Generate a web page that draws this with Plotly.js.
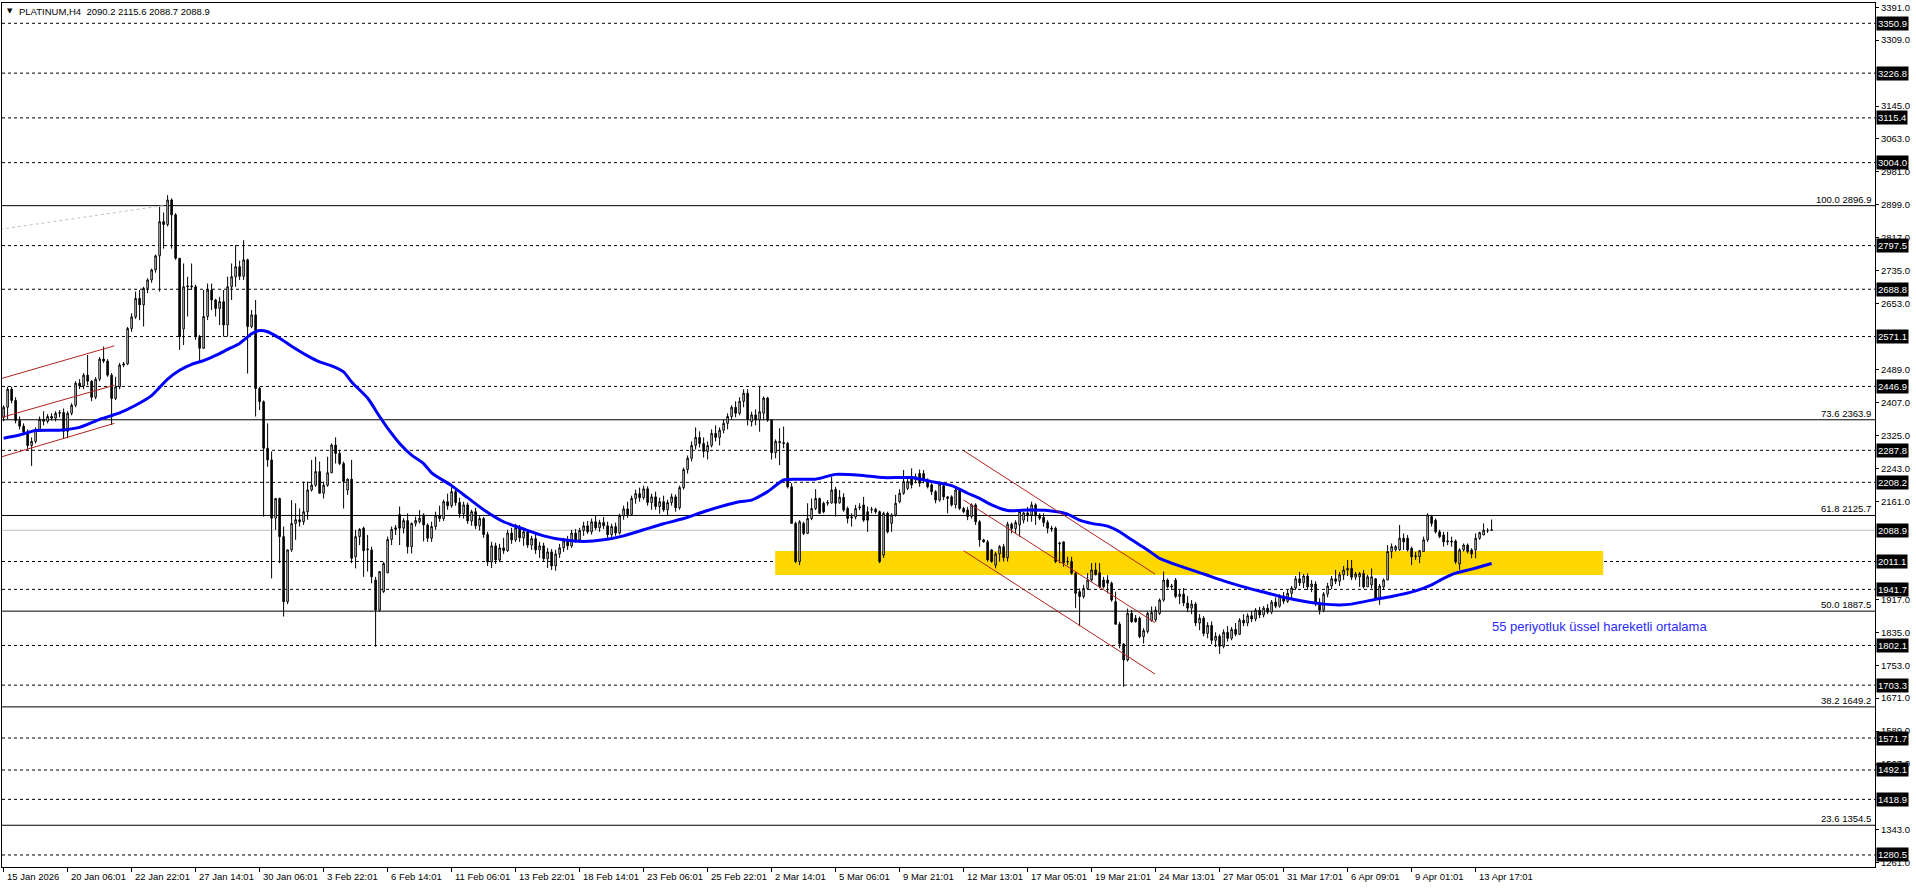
<!DOCTYPE html>
<html><head><meta charset="utf-8">
<script src="https://cdn.plot.ly/plotly-3.0.1.min.js"></script>
<style>html,body{margin:0;padding:0;background:#fff;}#chart{width:1916px;height:888px;}</style>
</head><body><div id="chart"></div>
<script>
// H4 bars, index 0 = 15 Jan 2026
const openP = [
2370,2395,2440,2412,2362,2348,2333,2300,2310,2340,
2365,2360,2372,2368,2380,2382,2335,2380,2400,2455,
2448,2475,2460,2420,2465,2515,2510,2475,2417,2446,
2500,2503,2591,2620,2666,2650,2691,2712,2737,2772,
2857,2850,2911,2874,2766,2590,2695,2697,2695,2571,
2542,2621,2687,2662,2641,2658,2600,2695,2720,2745,
2721,2762,2596,2625,2442,2409,2293,2264,2119,2168,
2073,1911,2040,2106,2115,2110,2135,2189,2201,2235,
2181,2201,2232,2301,2280,2255,2189,2216,2023,2073,
2094,2040,2040,1965,1890,1936,1983,2066,2091,2128,
2094,2113,2048,2106,2110,2127,2102,2069,2098,2125,
2118,2160,2150,2185,2158,2130,2152,2112,2135,2100,
2118,2078,2010,2050,2015,2045,2038,2082,2065,2095,
2070,2085,2052,2068,2040,2050,2018,2035,2000,2030,
2045,2062,2050,2082,2065,2088,2100,2085,2110,2095,
2108,2100,2078,2098,2082,2125,2142,2128,2168,2180,
2170,2192,2158,2172,2148,2160,2140,2158,2172,2145,
2195,2240,2268,2300,2320,2305,2285,2300,2330,2320,
2338,2355,2372,2395,2380,2410,2430,2359,2376,2364,
2380,2418,2363,2282,2310,2307,2305,2197,2106,2011,
2106,2081,2118,2143,2168,2156,2156,2157,2191,2157,
2171,2143,2120,2122,2145,2152,2135,2140,2141,2135,
2027,2131,2106,2127,2160,2181,2193,2222,2214,2230,
2230,2214,2202,2185,2164,2200,2168,2172,2152,2189,
2143,2139,2123,2152,2110,2065,2060,2040,2002,2030,
2048,2021,2104,2093,2102,2114,2132,2127,2152,2127,
2121,2108,2094,2094,2055,2060,2010,2011,1982,1936,
1924,1944,1965,1990,1983,1965,1965,1957,1911,1855,
1806,1766,1882,1870,1870,1824,1837,1864,1866,1882,
1915,1965,1948,1965,1924,1930,1908,1895,1905,1858,
1870,1832,1852,1815,1825,1800,1835,1820,1842,1830,
1865,1858,1876,1868,1890,1878,1895,1885,1910,1900,
1925,1912,1932,1945,1968,1958,1975,1948,1955,1908,
1890,1930,1950,1968,1962,1978,1990,1994,1972,1973,
1981,1948,1953,1968,1920,1948,1965,2036,2040,2040,
2069,2069,2044,2023,2023,2036,2065,2123,2114,2085,
2077,2060,2062,2062,2005,2040,2052,2040,2040,2069,
2077,2088,2090.2];
const highP = [
2400,2446,2446,2420,2372,2355,2340,2320,2345,2372,
2385,2378,2380,2385,2388,2392,2385,2405,2460,2465,
2480,2525,2462,2470,2520,2546,2515,2480,2471,2505,
2508,2595,2629,2683,2687,2695,2716,2740,2775,2894,
2880,2923,2915,2878,2766,2753,2720,2753,2700,2575,
2687,2703,2703,2665,2670,2687,2720,2753,2799,2760,
2811,2765,2637,2662,2446,2412,2355,2285,2168,2170,
2098,2040,2164,2156,2143,2210,2210,2264,2272,2260,
2210,2272,2305,2320,2289,2260,2218,2264,2090,2094,
2098,2077,2048,1973,1986,2010,2073,2098,2102,2148,
2119,2131,2108,2123,2139,2131,2106,2110,2135,2150,
2165,2180,2196,2192,2170,2160,2158,2140,2145,2125,
2122,2085,2060,2058,2055,2070,2090,2095,2105,2102,
2090,2092,2075,2080,2060,2058,2045,2042,2040,2055,
2070,2075,2090,2092,2095,2110,2112,2118,2125,2115,
2122,2110,2105,2108,2130,2150,2160,2175,2190,2195,
2200,2198,2180,2185,2170,2175,2165,2180,2178,2200,
2245,2275,2310,2345,2335,2320,2310,2340,2350,2345,
2365,2380,2400,2410,2420,2440,2440,2384,2390,2446,
2422,2421,2365,2315,2343,2347,2309,2206,2110,2114,
2110,2156,2168,2191,2170,2160,2164,2222,2197,2189,
2181,2148,2131,2152,2156,2172,2148,2147,2145,2138,
2135,2135,2131,2177,2191,2239,2218,2243,2230,2240,
2239,2218,2206,2189,2210,2204,2174,2176,2193,2193,
2147,2147,2156,2156,2114,2067,2065,2042,2035,2052,
2055,2110,2108,2114,2139,2135,2147,2160,2156,2131,
2131,2114,2100,2098,2060,2060,2023,2023,1986,1944,
1953,1982,2007,2008,2007,1973,1977,1961,1936,1861,
1807,1894,1890,1878,1874,1845,1886,1899,1899,1919,
1986,1969,1955,1970,1940,1945,1925,1915,1910,1880,
1875,1860,1862,1835,1830,1842,1850,1848,1858,1870,
1880,1882,1888,1895,1898,1900,1905,1915,1922,1930,
1935,1940,1950,1975,1985,1980,1982,1965,1962,1920,
1935,1958,1975,1990,1985,2000,2015,2015,1985,1985,
1990,1978,1994,1970,1955,1969,2052,2056,2052,2102,
2081,2077,2048,2035,2040,2073,2131,2127,2118,2090,
2085,2085,2073,2066,2044,2056,2056,2044,2081,2085,
2106,2094,2115.6];
const lowP = [
2360,2365,2405,2355,2340,2325,2290,2249,2305,2335,
2350,2355,2362,2360,2370,2318,2318,2375,2395,2440,
2440,2450,2410,2415,2460,2505,2471,2351,2413,2440,
2495,2500,2583,2615,2612,2596,2679,2705,2730,2683,
2790,2845,2790,2762,2538,2550,2621,2687,2563,2509,
2540,2612,2637,2621,2600,2571,2571,2662,2695,2712,
2712,2479,2592,2372,2388,2123,2247,1969,2090,2007,
1874,1905,2035,2065,2098,2102,2115,2185,2197,2181,
2168,2197,2231,2255,2251,2143,2177,2007,1994,2052,
1973,1986,1957,1799,1886,1933,1982,2052,2077,2052,
2081,2031,2031,2098,2106,2061,2060,2060,2090,2110,
2112,2140,2145,2150,2120,2118,2105,2100,2092,2088,
2070,2000,1995,2005,2010,2030,2035,2055,2060,2060,
2050,2045,2040,2030,2020,2010,1995,1990,1988,2020,
2035,2040,2045,2058,2060,2075,2080,2078,2090,2085,
2092,2070,2070,2075,2078,2115,2120,2125,2155,2160,
2165,2150,2140,2140,2130,2135,2125,2150,2135,2140,
2190,2230,2260,2290,2295,2270,2265,2295,2310,2300,
2330,2340,2365,2370,2375,2395,2350,2347,2350,2334,
2363,2359,2265,2268,2251,2293,2193,2106,2007,2002,
2077,2081,2114,2139,2131,2131,2150,2155,2123,2155,
2135,2106,2098,2116,2139,2110,2085,2131,2130,2007,
2020,2081,2085,2123,2156,2177,2189,2193,2206,2197,
2206,2193,2177,2156,2160,2164,2131,2148,2143,2139,
2131,2114,2118,2102,2048,2058,2011,2008,1994,2011,
2011,2011,2081,2081,2073,2106,2110,2110,2102,2114,
2098,2081,2085,2007,2007,1998,2002,1978,1895,1850,
1919,1940,1961,1977,1944,1944,1932,1911,1853,1795,
1699,1762,1859,1859,1820,1807,1832,1861,1861,1878,
1911,1944,1940,1920,1905,1900,1885,1880,1850,1840,
1825,1820,1805,1798,1781,1795,1812,1815,1825,1828,
1850,1850,1860,1862,1870,1872,1880,1880,1895,1896,
1905,1908,1920,1940,1950,1945,1940,1935,1900,1879,
1885,1922,1942,1955,1950,1965,1975,1965,1965,1948,
1944,1948,1944,1915,1903,1940,1965,2019,2036,2038,
2040,2036,2002,2015,2007,2036,2060,2098,2081,2069,
2048,2052,2048,2005,1990,2036,2031,2019,2019,2065,
2077,2082,2088.7];
const closeP = [
2395,2440,2412,2362,2348,2333,2300,2310,2340,2365,
2360,2372,2368,2380,2382,2335,2380,2400,2455,2448,
2475,2460,2420,2465,2515,2510,2475,2417,2446,2500,
2503,2591,2620,2666,2650,2691,2712,2737,2772,2857,
2850,2911,2874,2766,2571,2695,2697,2695,2571,2542,
2621,2687,2662,2641,2658,2600,2695,2720,2745,2721,
2762,2596,2625,2442,2409,2293,2264,2119,2168,2073,
1911,2040,2106,2115,2110,2135,2189,2201,2235,2181,
2201,2232,2301,2280,2255,2210,2216,2019,2073,2091,
2038,2042,1973,1890,1986,2006,2066,2091,2095,2094,
2113,2048,2106,2113,2119,2102,2069,2098,2125,2118,
2160,2150,2185,2158,2130,2152,2112,2135,2100,2118,
2078,2010,2050,2015,2045,2038,2082,2065,2095,2070,
2085,2052,2068,2040,2050,2018,2035,2000,2030,2045,
2062,2050,2082,2065,2088,2100,2085,2110,2095,2108,
2100,2078,2098,2082,2125,2142,2128,2168,2180,2170,
2192,2158,2172,2148,2160,2140,2158,2172,2145,2195,
2240,2268,2300,2320,2305,2285,2300,2330,2320,2338,
2355,2372,2395,2380,2410,2430,2365,2376,2364,2384,
2418,2363,2282,2310,2307,2305,2197,2106,2011,2110,
2081,2118,2143,2168,2131,2135,2158,2189,2156,2171,
2139,2118,2122,2143,2147,2114,2114,2141,2135,2011,
2131,2085,2127,2156,2181,2210,2210,2202,2222,2206,
2214,2197,2185,2164,2204,2172,2172,2152,2189,2143,
2135,2123,2152,2110,2065,2060,2015,2011,2030,2048,
2021,2104,2093,2108,2135,2132,2127,2152,2127,2119,
2108,2094,2092,2011,2057,2008,2011,1982,1932,1924,
1944,1965,1990,1978,1948,1948,1957,1915,1855,1806,
1766,1882,1861,1861,1824,1839,1882,1884,1890,1915,
1965,1948,1950,1924,1930,1908,1895,1905,1858,1870,
1832,1852,1815,1825,1800,1835,1820,1842,1830,1865,
1858,1876,1868,1890,1878,1895,1885,1910,1900,1925,
1912,1932,1945,1968,1958,1975,1948,1955,1908,1890,
1930,1950,1968,1962,1978,1990,1994,1972,1980,1981,
1948,1973,1973,1919,1950,1965,2036,2048,2048,2069,
2060,2040,2023,2025,2038,2065,2127,2106,2085,2073,
2060,2062,2060,2010,2040,2052,2036,2030,2069,2083,
2089,2088,2088.9];

// 55-period EMA at these bars
const emaBar = [0,4,8,14,19,24,29,33,37,41,44,47,50,53,56,59,62,64,66,69,72,76,79,82,85,87,91,94,96,99,102,105,107,
112,116,120,125,130,135,140,145,150,155,160,165,170,175,180,184,187,191,195,198,203,208,214,220,227,232,237,241,244,247,
251,256,261,266,269,272,276,279,282,286,289,294,300,305,310,315,320,325,330,334,337,344,347,353,357,360,363,367,372];
const emaVal = [2318,2326,2337,2338,2345,2365,2381,2400,2424,2465,2487,2502,2511,2524,2539,2554,2578,2586,2583,2567,2547,2523,2508,2498,2483,2458,2418,2372,2343,2305,2276,2255,2232,
2200,2170,2140,2110,2092,2075,2065,2061,2065,2075,2090,2105,2118,2135,2150,2160,2164,2185,2214,2216,2216,2228,2226,2220,2220,2210,2200,2181,2168,2152,
2138,2139,2138,2129,2114,2106,2099,2085,2065,2040,2019,2000,1980,1963,1948,1935,1922,1912,1905,1903,1905,1919,1924,1938,1953,1969,1982,1992,2006];

const xTickBars = [0,16,32,48,64,80,96,112,128,144,160,176,192,208,224,240,256,272,288,304,320,336,352,368];
const xTickLabels = ['15 Jan 2026','20 Jan 06:01','22 Jan 22:01','27 Jan 14:01','30 Jan 06:01','3 Feb 22:01','6 Feb 14:01',
'11 Feb 06:01','13 Feb 22:01','18 Feb 14:01','23 Feb 06:01','25 Feb 22:01','2 Mar 14:01','5 Mar 06:01','9 Mar 21:01',
'12 Mar 13:01','17 Mar 05:01','19 Mar 21:01','24 Mar 13:01','27 Mar 05:01','31 Mar 17:01','6 Apr 09:01','9 Apr 01:01','13 Apr 17:01'];
const yTickVals = [3391,3309,3145,3063,2981,2899,2817,2735,2653,2489,2407,2325,2243,2161,1917,1835,1753,1671,1589,1507,1343,1261];

const dashedLevels = [3350.9,3226.8,3115.4,3004.0,2797.5,2688.8,2571.1,2446.9,2287.8,2208.2,2011.1,1941.7,1802.1,1703.3,1571.7,1492.1,1418.9,1280.5];
const fibLevels = [2896.9,2363.9,2125.7,1887.5,1649.2,1354.5];
const fibPct = ['100.0','73.6','61.8','50.0','38.2','23.6'];
const bidPrice = 2088.9;

const zoneBars = [192.9,399.9];
const zonePrices = [1977.5,2037.3];

const upChannelBars = [-0.4,27.7];
const upChannelTop = [2467,2548];
const upChannelMid = [2370,2450];
const upChannelBot = [2272,2355];
const downChannelBars = [240,287.85];
const downChannelTop = [2287,1980];
const downChannelMid = [2164,1859];
const downChannelBot = [2038,1731];
const fibDiagBars = [-0.9,39.9];
const fibDiagPrices = [2838,2896.9];

const titleText = 'PLATINUM,H4\u00a0\u00a02090.2 2115.6 2088.7 2088.9';
const emaNote = '55 periyotluk üssel hareketli ortalama';
const emaNotePos = [398.85,1849];

const FONT = 'Liberation Sans, Arial, sans-serif';
const barIdx = closeP.map((_, i) => i);

const traces = [
  {type:'candlestick', x:barIdx, open:openP, high:highP, low:lowP, close:closeP,
   increasing:{line:{color:'#000',width:1}, fillcolor:'#ffffff'},
   decreasing:{line:{color:'#000',width:1}, fillcolor:'#000000'},
   whiskerwidth:0, hoverinfo:'none', showlegend:false},
  {type:'scatter', mode:'lines', x:emaBar, y:emaVal, line:{color:'#0000ff',width:3,shape:'spline',smoothing:0.6},
   hoverinfo:'none', showlegend:false}
];

const shapes = [];
shapes.push({type:'rect', xref:'x', yref:'y', x0:zoneBars[0], x1:zoneBars[1], y0:zonePrices[0], y1:zonePrices[1],
  fillcolor:'#FFD700', line:{width:0}, layer:'below'});
dashedLevels.forEach(v => shapes.push({type:'line', xref:'paper', x0:0, x1:1, yref:'y', y0:v, y1:v,
  line:{color:'#000', width:1, dash:'3px,3px'}, layer:'below'}));
fibLevels.forEach(v => shapes.push({type:'line', xref:'paper', x0:0, x1:1, yref:'y', y0:v, y1:v,
  line:{color:'#000', width:1}, layer:'below'}));
shapes.push({type:'line', xref:'paper', x0:0, x1:1, yref:'y', y0:bidPrice, y1:bidPrice, line:{color:'#c0c0c0', width:1}, layer:'below'});
shapes.push({type:'line', xref:'x', yref:'y', x0:fibDiagBars[0], x1:fibDiagBars[1], y0:fibDiagPrices[0], y1:fibDiagPrices[1],
  line:{color:'#c0c0c0', width:1, dash:'3px,3px'}, layer:'below'});
const red = '#b22222';
[[upChannelBars, upChannelTop],[upChannelBars, upChannelMid],[upChannelBars, upChannelBot],
 [downChannelBars, downChannelTop],[downChannelBars, downChannelMid],[downChannelBars, downChannelBot]].forEach(([b,p]) =>
  shapes.push({type:'line', xref:'x', yref:'y', x0:b[0], x1:b[1], y0:p[0], y1:p[1], line:{color:red, width:1}, layer:'above'}));

const annotations = [];
dashedLevels.concat([bidPrice]).forEach(v => annotations.push({xref:'paper', x:1, xanchor:'left', xshift:1, yref:'y', y:v, yanchor:'middle',
  text:v.toFixed(1), showarrow:false, bgcolor:'#000', borderpad:1, font:{family:FONT, size:9.5, color:'#fff'}}));
fibLevels.forEach((v,i) => annotations.push({xref:'paper', x:1, xanchor:'right', xshift:-2, yref:'y', y:v, yanchor:'bottom', yshift:-1,
  text:fibPct[i] + ' ' + v.toFixed(1), showarrow:false, font:{family:FONT, size:9.5, color:'#000'}}));
xTickBars.forEach((b,i) => annotations.push({xref:'x', x:b, xanchor:'left', xshift:1, yref:'paper', y:0, yanchor:'top', yshift:-2,
  text:xTickLabels[i], showarrow:false, font:{family:FONT, size:9.5, color:'#000'}}));
annotations.push({xref:'paper', x:0, xanchor:'left', xshift:3, yref:'paper', y:1, yanchor:'top', yshift:-2,
  text:'\u25BC', showarrow:false, font:{family:'DejaVu Sans, sans-serif', size:7, color:'#000'}});
annotations.push({xref:'paper', x:0, xanchor:'left', xshift:15, yref:'paper', y:1, yanchor:'top', yshift:-1,
  text:titleText, showarrow:false, font:{family:FONT, size:9.5, color:'#000'}});
annotations.push({xref:'x', x:emaNotePos[0], yref:'y', y:emaNotePos[1], xanchor:'center', yanchor:'middle',
  text:emaNote, showarrow:false, font:{family:FONT, size:13, color:'#2a2aff'}});

const layout = {
  width:1916, height:888,
  margin:{l:2, r:41, t:3, b:21},
  paper_bgcolor:'#fff', plot_bgcolor:'#fff',
  showlegend:false, boxgap:0.45,
  xaxis:{range:[-0.4,467.85], showgrid:false, zeroline:false, showline:true, linecolor:'#000', linewidth:1, mirror:true,
    ticks:'outside', ticklen:4, tickcolor:'#000', tickvals:xTickBars, showticklabels:false,
    rangeslider:{visible:false}, fixedrange:true},
  yaxis:{side:'right', range:[1250.6,3401.4], showgrid:false, zeroline:false, showline:true, linecolor:'#000', linewidth:1, mirror:true,
    ticks:'outside', ticklen:3, tickcolor:'#000', tickvals:yTickVals, ticktext:yTickVals.map(v => v.toFixed(1)),
    tickfont:{family:FONT, size:9.5, color:'#000'}, fixedrange:true},
  shapes:shapes, annotations:annotations
};
Plotly.newPlot('chart', traces, layout, {displayModeBar:false, staticPlot:true});
</script></body></html>
